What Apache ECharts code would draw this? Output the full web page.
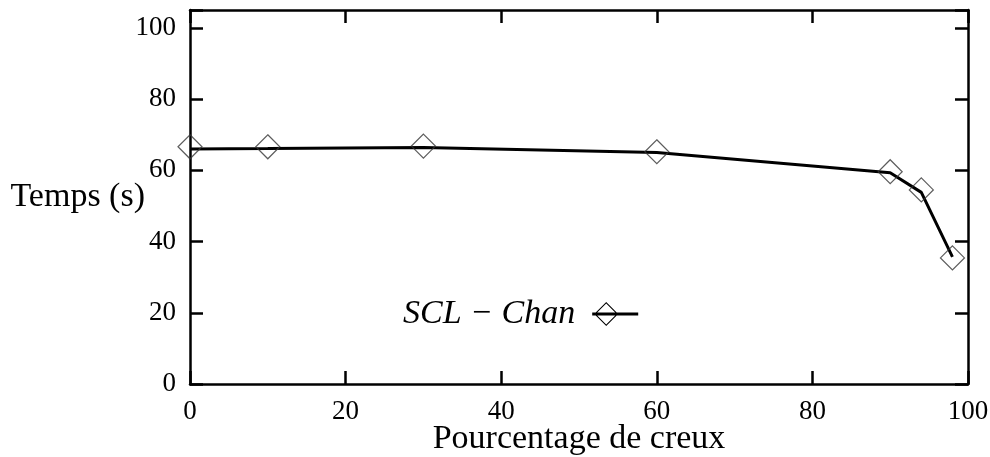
<!DOCTYPE html>
<html>
<head>
<meta charset="utf-8">
<script src="https://cdn.jsdelivr.net/npm/echarts@6/dist/echarts.min.js"></script>
<style>
  html, body { margin: 0; padding: 0; background: #fff; }
  #main { width: 990px; height: 457px; }
</style>
</head>
<body>
<div id="main"></div>
<script>
const chartDom = document.querySelector("#main");
const myChart = echarts.init(chartDom);

// pourcentage de creux
const creux = [0, 10, 30, 60, 90, 94, 98];
// temps mesurés (marqueurs)
const tempsPoints = [66.6, 66.6, 66.8, 65.2, 59.6, 54.5, 35.4];
// courbe tracée
const tempsCourbe = [66.0, 66.1, 66.4, 65.0, 59.3, 53.8, 35.7];
const serieNom = "SCL − Chan";

const font = "'Liberation Serif', 'DejaVu Serif', serif";
const lineData = creux.map((x, i) => [x, tempsCourbe[i]]);
const pointData = creux.map((x, i) => [x, tempsPoints[i]]);

// icone de légende : trait + losange creux
const legendIcon = "path://M0 10.5L46 10.5L46 13.5L0 13.5Z" +
    "M14 0L26 12L14 24L2 12Z" +
    "M14 1.5L3.5 12L14 22.5L24.5 12Z";

const axisCommon = {
    axisLine: { show: true, onZero: false, lineStyle: { color: "#000", width: 2.5 } },
    axisTick: { show: true, inside: true, length: 13, lineStyle: { color: "#000", width: 2.5 } },
    splitLine: { show: false },
};

const option = {
    animation: false,
    grid: { left: 190, right: 22, top: 10, bottom: 73, outerBoundsMode: "none", containLabel: false },
    legend: {
        data: [{ name: serieNom, icon: legendIcon }],
        left: 398, top: 292,
        align: "right",
        itemWidth: 46, itemHeight: 24, itemGap: 0,
        itemStyle: { color: "#000" },
        textStyle: { fontFamily: font, fontStyle: "italic", fontSize: 34, color: "#000", padding: [0, 12, 0, 0] },
    },
    xAxis: [
        {
            ...axisCommon, type: "value", min: 0, max: 100, interval: 20,
            name: "Pourcentage de creux", nameLocation: "middle", nameGap: 38, nameMoveOverlap: false,
            nameTextStyle: { fontFamily: font, fontSize: 34, color: "#000" },
            axisLabel: { fontFamily: font, fontSize: 27, color: "#000", margin: 14 },
        },
        {
            ...axisCommon, type: "value", position: "top", min: 0, max: 100, interval: 20,
            axisLabel: { show: false },
        },
    ],
    yAxis: [
        {
            ...axisCommon, type: "value", min: 0, max: 105, interval: 20,
            name: "Temps (s)", nameLocation: "middle", nameGap: 45, nameRotate: 0, nameMoveOverlap: false,
            nameTextStyle: { fontFamily: font, fontSize: 34, color: "#000" },
            axisLabel: { fontFamily: font, fontSize: 27, color: "#000", margin: 14,
                formatter: (v) => (v % 20 === 0 ? v : "") },
        },
        {
            ...axisCommon, type: "value", position: "right", min: 0, max: 105, interval: 20,
            axisLabel: { show: false },
        },
    ],
    series: [
        {
            name: serieNom, type: "line", data: lineData,
            symbol: "diamond", symbolSize: 22, showSymbol: false,
            itemStyle: { color: "#000" },
            lineStyle: { color: "#000", width: 3 },
            z: 2,
        },
        {
            name: "points", type: "scatter", data: pointData,
            symbol: "diamond", symbolSize: 24,
            itemStyle: { color: "rgba(255,255,255,0)", borderColor: "#333", borderWidth: 1.2 },
            z: 3,
        },
    ],
};

myChart.setOption(option);
</script>
</body>
</html>
